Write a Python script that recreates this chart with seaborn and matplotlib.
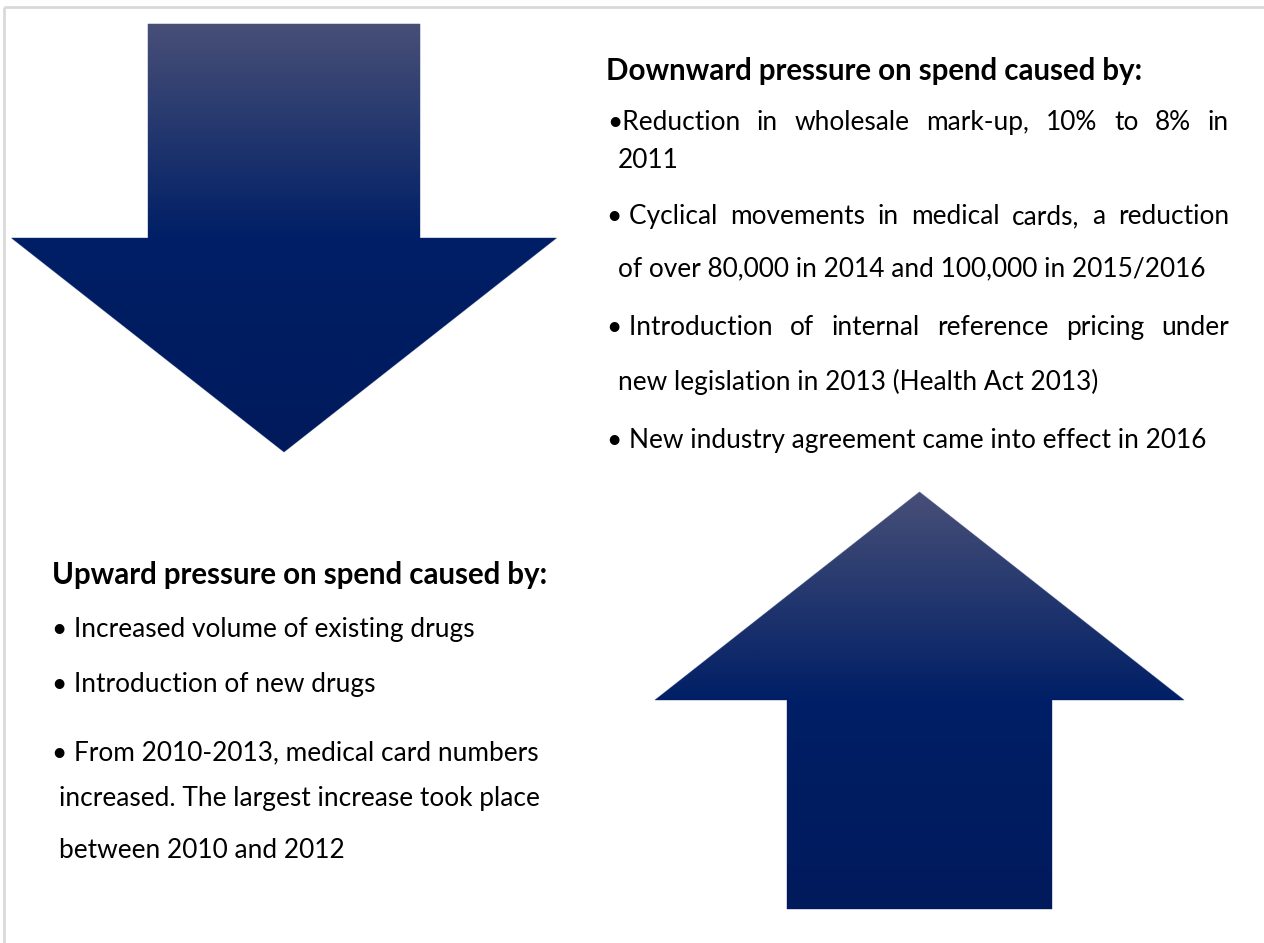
import numpy as np
import matplotlib
matplotlib.use("Agg")
import matplotlib.pyplot as plt
import seaborn as sns
from matplotlib.patches import Polygon
from matplotlib.colors import LinearSegmentedColormap

# text content
down_title = "Downward pressure on spend caused by:"
down_lines = [
    "•Reduction in wholesale mark-up, 10% to 8% in",
    "2011",
    "• Cyclical movements in medical cards, a reduction",
    "of over 80,000 in 2014 and 100,000 in 2015/2016",
    "• Introduction of internal reference pricing under",
    "new legislation in 2013 (Health Act 2013)",
    "• New industry agreement came into effect in 2016",
]
down_justify = [True, False, True, False, True, False, False]

up_title = "Upward pressure on spend caused by:"
up_lines = [
    "• Increased volume of existing drugs",
    "• Introduction of new drugs",
    "• From 2010-2013, medical card numbers",
    "increased. The largest increase took place",
    "between 2010 and 2012",
]

# arrow colours (top -> shoulder -> bottom)
arrow_colors = ["#474f77", "#001f66", "#001a5c"]

sns.set_theme(style="white")
plt.rcParams["font.family"] = ["Lato", "DejaVu Sans"]

W, H = 1264, 943
fig = plt.figure(figsize=(W / 100, H / 100), dpi=100)
ax = fig.add_axes([0, 0, 1, 1])
ax.set_xlim(0, W)
ax.set_ylim(H, 0)
ax.axis("off")

# light frame on top and left
ax.plot([4, W], [7, 7], color="#d9d9d9", lw=2, solid_capstyle="butt")
ax.plot([4, 4], [7, H], color="#d9d9d9", lw=2, solid_capstyle="butt")

cmap = LinearSegmentedColormap.from_list("arrow", arrow_colors)


def draw_arrow(cx, shaft_w, head_w, y_tail, y_shoulder, y_tip):
    # y_tail = end of shaft, y_tip = point of the head
    hs, hh = shaft_w / 2, head_w / 2
    pts = [(cx - hs, y_tail), (cx + hs, y_tail), (cx + hs, y_shoulder),
           (cx + hh, y_shoulder), (cx, y_tip), (cx - hh, y_shoulder),
           (cx - hs, y_shoulder)]
    poly = Polygon(pts, closed=True, facecolor="none", edgecolor="#8d95b8",
                   lw=0.6)
    ax.add_patch(poly)
    y_top, y_bot = min(y_tail, y_tip), max(y_tail, y_tip)
    ys = np.linspace(y_top, y_bot, 400)
    # fade from the top edge down to the shoulder, then stay dark
    v = np.where(ys <= y_shoulder,
                 0.5 * (ys - y_top) / (y_shoulder - y_top),
                 0.5 + 0.5 * (ys - y_shoulder) / (y_bot - y_shoulder))
    img = ax.imshow(v[:, None], cmap=cmap, vmin=0, vmax=1, aspect="auto",
                    extent=[cx - hh, cx + hh, y_bot, y_top], zorder=1,
                    interpolation="bilinear")
    img.set_clip_path(poly)


draw_arrow(284, 272, 545, 24, 238, 452)
draw_arrow(919.5, 265, 529, 909, 700, 492)

renderer = fig.canvas.get_renderer()


def width_of(s, size, weight="normal"):
    t = ax.text(0, 0, s, fontsize=size, fontweight=weight)
    w = t.get_window_extent(renderer).width
    t.remove()
    return w


def fit_size(s, target, weight="normal"):
    return 10 * target / width_of(s, 10, weight)


body_size = fit_size(down_lines[3], 1205 - 618)
title_size = fit_size(down_title, 1148 - 606, "bold")


def put_line(s, x0, y, size, weight="normal", x1=None):
    if x1 is None:
        ax.text(x0, y, s, fontsize=size, fontweight=weight, color="black",
                va="baseline", ha="left")
        return
    words = s.split(" ")
    if words[0] == "•":
        # bullet keeps its normal space, only the words get spread
        words = [words[0] + " " + words[1]] + words[2:]
    ws = [width_of(w, size, weight) for w in words]
    gap = (x1 - x0 - sum(ws)) / (len(words) - 1)
    x = x0
    for w, wd in zip(words, ws):
        ax.text(x, y, w, fontsize=size, fontweight=weight, color="black",
                va="baseline", ha="left")
        x += wd + gap


# right block
put_line(down_title, 606, 80, title_size, "bold")
down_y = [130, 168, 224, 276, 335, 390, 448]
down_x = [607, 618, 607, 618, 607, 618, 607]
for s, x, y, j in zip(down_lines, down_x, down_y, down_justify):
    put_line(s, x, y, body_size, x1=1229 if j else None)

# left block
put_line(up_title, 52, 584, title_size, "bold")
up_y = [637, 692, 760, 806, 858]
up_x = [52, 52, 52, 59, 59]
for s, x, y in zip(up_lines, up_x, up_y):
    put_line(s, x, y, body_size)

fig.savefig("out.png", dpi=100, facecolor="white")
